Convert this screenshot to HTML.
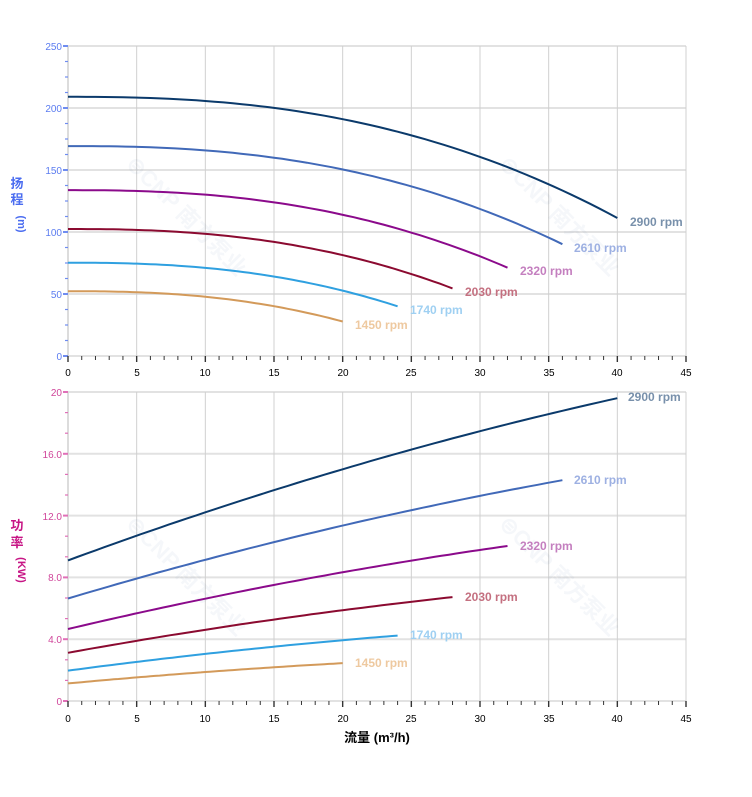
<!DOCTYPE html>
<html><head><meta charset="utf-8"><style>
html,body{margin:0;padding:0;background:#fff}
svg{display:block;font-family:"Liberation Sans","Noto Sans CJK SC",sans-serif}
</style></head><body>
<svg id="s" width="752" height="797" xmlns="http://www.w3.org/2000/svg">
<g id="grid"></g>
<g opacity="0.06" fill="#5577aa" font-weight="bold" font-size="22">
<text transform="translate(125,165) rotate(45)">⊜CNP 南方泵业</text>
<text transform="translate(498,165) rotate(45)">⊜CNP 南方泵业</text>
<text transform="translate(125,525) rotate(45)">⊜CNP 南方泵业</text>
<text transform="translate(498,525) rotate(45)">⊜CNP 南方泵业</text>
</g>
<g id="curves" fill="none" stroke-width="2"></g>
<g font-size="10" fill="#5b7cf0" text-anchor="end">
<text x="62" y="50">250</text><text x="62" y="112">200</text><text x="62" y="174">150</text>
<text x="62" y="236">100</text><text x="62" y="298">50</text><text x="62" y="360">0</text>
</g>
<g font-size="10" fill="#d0459a" text-anchor="end">
<text x="62" y="396">20</text><text x="62" y="458">16.0</text><text x="62" y="520">12.0</text>
<text x="62" y="581">8.0</text><text x="62" y="643">4.0</text><text x="62" y="705">0</text>
</g>
<g font-size="10" fill="#000" text-anchor="middle">
<text x="68" y="376">0</text><text x="137" y="376">5</text><text x="205" y="376">10</text><text x="274" y="376">15</text><text x="343" y="376">20</text><text x="411" y="376">25</text><text x="480" y="376">30</text><text x="549" y="376">35</text><text x="617" y="376">40</text><text x="686" y="376">45</text>
<text x="68" y="722">0</text><text x="137" y="722">5</text><text x="205" y="722">10</text><text x="274" y="722">15</text><text x="343" y="722">20</text><text x="411" y="722">25</text><text x="480" y="722">30</text><text x="549" y="722">35</text><text x="617" y="722">40</text><text x="686" y="722">45</text>
</g>
<text x="377" y="742" font-size="13" font-weight="bold" text-anchor="middle">流量 (m³/h)</text>
<g font-size="13" font-weight="bold" fill="#4a6cf0" text-anchor="middle">
<text x="17" y="188">扬</text><text x="17" y="204">程</text>
<text x="17" y="224" font-size="11" transform="rotate(90 17 224)" dy="-1">(m)</text>
</g>
<g font-size="13" font-weight="bold" fill="#c71585" text-anchor="middle">
<text x="17" y="530">功</text><text x="17" y="547">率</text>
<text x="17" y="570" font-size="11" transform="rotate(90 17 570)" dy="-1">(KW)</text>
</g>
<g font-size="12" font-weight="bold">
<text x="630" y="226" fill="#7890ab">2900 rpm</text>
<text x="574" y="252" fill="#9db0e2">2610 rpm</text>
<text x="520" y="275" fill="#c47fbf">2320 rpm</text>
<text x="465" y="296" fill="#c47080">2030 rpm</text>
<text x="410" y="314" fill="#9fd0f2">1740 rpm</text>
<text x="355" y="329" fill="#eec9a0">1450 rpm</text>
<text x="628" y="401" fill="#7890ab">2900 rpm</text>
<text x="574" y="484" fill="#9db0e2">2610 rpm</text>
<text x="520" y="550" fill="#c47fbf">2320 rpm</text>
<text x="465" y="601" fill="#c47080">2030 rpm</text>
<text x="410" y="639" fill="#9fd0f2">1740 rpm</text>
<text x="355" y="667" fill="#eec9a0">1450 rpm</text>
</g>
</svg>
<script>
var NS="http://www.w3.org/2000/svg";
function el(p,t,a){var e=document.createElementNS(NS,t);for(var k in a)e.setAttribute(k,a[k]);document.getElementById(p).appendChild(e);}
function X(q){return 68+q*618/45;}
[[46,356,4],[392,701,3]].forEach(function(r,i){
  var y0=r[0],y1=r[1],sub=r[2],n=5*sub;
  for(var j=0;j<=5;j++){var y=y1-(y1-y0)*j/5;el("grid","line",{x1:68,x2:686,y1:y,y2:y,stroke:"#e2e2e2","stroke-width":2});}
  for(var q=5;q<=45;q+=5)el("grid","line",{x1:X(q),x2:X(q),y1:y0,y2:y1,stroke:"#d0d0d0","stroke-width":1});
  el("grid","line",{x1:68,x2:68,y1:y0,y2:y1,stroke:"#dcdcdc","stroke-width":2});
  var c=i==0?"#6f8cf0":"#e070b8";
  for(var j=0;j<=n;j++){var y=y1-(y1-y0)*j/n;var maj=j%sub==0;el("grid","line",{x1:maj?63:65,x2:68,y1:y,y2:y,stroke:c,"stroke-width":maj?2:1.2});}
  for(var q=0;q<=45;q++){var x=X(q);var maj=q%5==0;el("grid","line",{x1:x,x2:x,y1:y1,y2:y1+(maj?6:4),stroke:"#333","stroke-width":maj?1.4:1});}
});
function H(q){return 209-18*Math.pow(q/20,2.44);}
function P(q){return 9.1+0.3275*q-0.001625*q*q;}
var sp=[[2900,"#0b3a6b"],[2610,"#4169b8"],[2320,"#8b0a8b"],[2030,"#8b0a30"],[1740,"#2fa0e0"],[1450,"#d39a5a"]];
sp.forEach(function(s){
  var r=s[0]/2900,qm=40*r,d1="",d2="";
  for(var k=0;k<=60;k++){var q=qm*k/60;
    var h=r*r*H(q/r),p=r*r*r*P(q/r);
    d1+=(k?"L":"M")+X(q).toFixed(1)+" "+(356-h*1.24).toFixed(1);
    d2+=(k?"L":"M")+X(q).toFixed(1)+" "+(701-p*15.45).toFixed(1);}
  el("curves","path",{d:d1,stroke:s[1]});el("curves","path",{d:d2,stroke:s[1]});
});
</script>
</body></html>
